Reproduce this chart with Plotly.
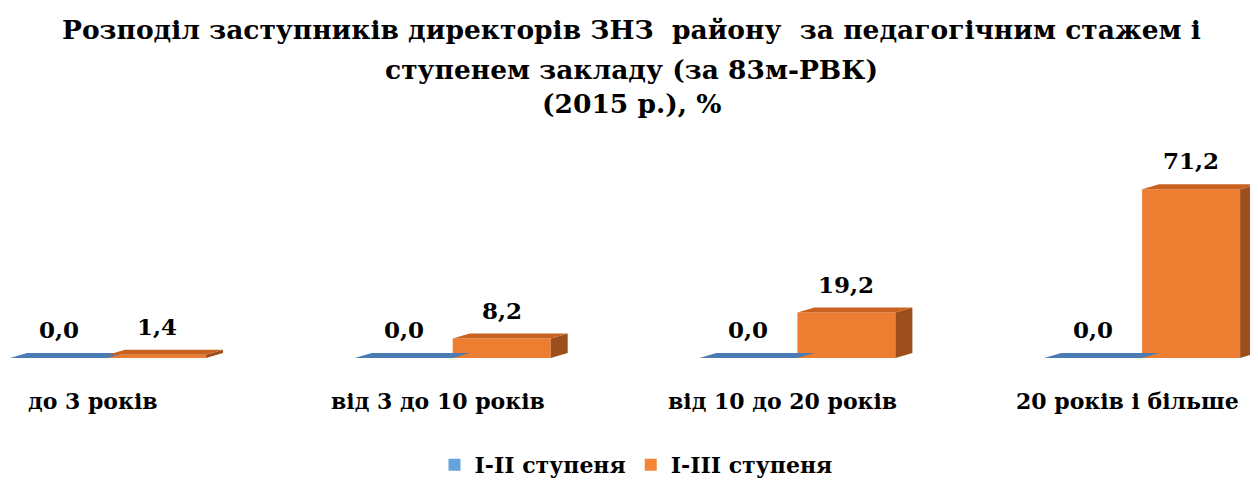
import plotly.graph_objects as go

categories = ["до 3 років", "від 3 до 10 років", "від 10 до 20 років", "20 років і більше"]
series_names = ["I-II ступеня", "I-III ступеня"]
values_12 = [0.0, 0.0, 0.0, 0.0]
values_13 = [1.4, 8.2, 19.2, 71.2]

title_lines = [
    "Розподіл заступників директорів ЗНЗ  району  за педагогічним стажем і",
    "ступенем закладу (за 83м-РВК)",
    "(2015 р.), %",
]

# styling (page body has an 8px margin, so the figure is drawn 8px in from the corner)
OFF = 8
W, H = 1258 - OFF, 481 - OFF
ML, MR = 0, 0
MT = 150 - OFF
MB = H - (358 - OFF)
PH = H - MT - MB
PX_PER_X = 344.7
PX_PER_Y = 2.37
X0 = -(108 - OFF) / PX_PER_X
X1 = X0 + (W - ML - MR) / PX_PER_X
Y1 = PH / PX_PER_Y
BW = 98 / PX_PER_X
DX = 17 / PX_PER_X
DY = 5 / PX_PER_Y

colors = [
    {"front": "#5B9BD5", "top": "#4A7CB3", "side": "#3C6795", "legend": "#65A3DC"},
    {"front": "#ED7D31", "top": "#C9621E", "side": "#9C4F1C", "legend": "#F58536"},
]
FONT = "DejaVu Serif"


def bold(t):
    return "<b>" + t + "</b>"


def paper_y(px_ref):
    return (H - MB - (px_ref - OFF)) / PH


def paper_x(px_ref):
    return (px_ref - OFF) / W


fig = go.Figure()
series = [values_12, values_13]
offsets = [-BW, 0.0]
shapes = []
annotations = []
for s, (vals, name, off, col) in enumerate(zip(series, series_names, offsets, colors)):
    xs = list(range(len(categories)))
    fig.add_trace(go.Bar(
        x=xs, y=vals, name=bold(name), width=BW, offset=off,
        marker=dict(color=col["front"], line=dict(width=0)),
        hoverinfo="skip", showlegend=False,
    ))
    # legend entry with a larger square swatch
    fig.add_trace(go.Scatter(
        x=[None], y=[None], mode="markers", name=bold(name),
        marker=dict(symbol="square", size=15, color=col["legend"]),
        hoverinfo="skip", showlegend=True,
    ))
    for i, v in enumerate(vals):
        x0 = i + off
        x1 = x0 + BW
        top = f"M {x0},{v} L {x1},{v} L {x1+DX},{v+DY} L {x0+DX},{v+DY} Z"
        side = f"M {x1},0 L {x1},{v} L {x1+DX},{v+DY} L {x1+DX},{DY} Z"
        shapes.append(dict(type="path", path=side, xref="x", yref="y",
                           fillcolor=col["side"], line=dict(width=0), layer="above"))
        shapes.append(dict(type="path", path=top, xref="x", yref="y",
                           fillcolor=col["top"], line=dict(width=0), layer="above"))
        annotations.append(dict(
            x=(x0 + x1) / 2, y=v + DY, xref="x", yref="y",
            text=bold(f"{v:.1f}".replace(".", ",")), showarrow=False,
            yanchor="bottom", yshift=8,
            font=dict(family=FONT, size=23, color="black"),
        ))

for i, c in enumerate(categories):
    annotations.append(dict(
        x=i - 15 / PX_PER_X, y=paper_y(401), xref="x", yref="paper", text=bold(c),
        showarrow=False, yanchor="middle",
        font=dict(family=FONT, size=22, color="black"),
    ))

for k, (line, py) in enumerate(zip(title_lines, [29, 69, 104])):
    annotations.append(dict(
        x=paper_x(631), y=paper_y(py), xref="paper", yref="paper", text=bold(line),
        showarrow=False, xanchor="center", yanchor="middle",
        font=dict(family=FONT, size=26.5, color="black"),
    ))

fig.update_layout(
    width=W, height=H,
    margin=dict(l=ML, r=MR, t=MT, b=MB, autoexpand=False),
    paper_bgcolor="white", plot_bgcolor="white",
    barmode="overlay",
    xaxis=dict(range=[X0, X1], visible=False, fixedrange=True),
    yaxis=dict(range=[0, Y1], visible=False, fixedrange=True),
    showlegend=True,
    legend=dict(orientation="h", x=paper_x(636), xanchor="center", y=paper_y(465), yref="paper",
                yanchor="middle", font=dict(family=FONT, size=22, color="black"),
                itemwidth=30, itemsizing="constant"),
    shapes=shapes,
    annotations=annotations,
)

fig.write_html("out.html")
